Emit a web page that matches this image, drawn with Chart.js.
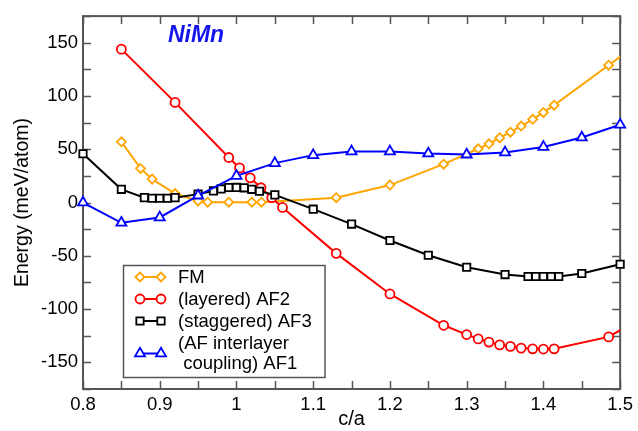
<!DOCTYPE html>
<html>
<head>
<meta charset="utf-8">
<title>NiMn energy vs c/a</title>
<script src="https://cdn.jsdelivr.net/npm/chart.js@4/dist/chart.umd.min.js"></script>
<style>
    html, body { margin: 0; padding: 0; background: #ffffff; }
    #wrap { width: 638px; height: 431px; }
</style>
</head>
<body>
<div id="wrap"><canvas id="chart" width="638" height="431"></canvas></div>
<script>
// Data (c/a vs energy in meV/atom)
const fmX = [0.85, 0.875, 0.89, 0.92, 0.95, 0.9625, 0.99, 1.02, 1.0325, 1.13, 1.2, 1.27, 1.315, 1.329, 1.343, 1.357, 1.371, 1.386, 1.4, 1.414, 1.485, 1.55];
const fmY = [57, 32, 22, 8.5, 1.5, 0.3, 0.3, 0.3, 0.3, 4.6, 16.4, 36, 50.5, 55.1, 60.7, 66, 71.8, 78.1, 84.6, 91.4, 128.9, 163];

const af2X = [0.85, 0.92, 0.99, 1.004, 1.018, 1.032, 1.046, 1.06, 1.13, 1.2, 1.27, 1.3, 1.315, 1.329, 1.343, 1.357, 1.371, 1.386, 1.4, 1.414, 1.485, 1.55];
const af2Y = [144, 94, 42.3, 32.5, 23.2, 13.9, 4.6, -4.6, -47.7, -85.8, -115.2, -123.9, -128, -131, -133.6, -135, -136.6, -137.3, -137.5, -137.3, -126.1, -99];

const af3X = [0.8, 0.85, 0.88, 0.89, 0.9, 0.91, 0.92, 0.95, 0.97, 0.98, 0.99, 1.0, 1.01, 1.02, 1.03, 1.05, 1.1, 1.15, 1.2, 1.25, 1.3, 1.35, 1.38, 1.39, 1.4, 1.41, 1.42, 1.45, 1.5];
const af3Y = [45.8, 12.4, 4.6, 4.0, 4.0, 4.0, 4.6, 7.9, 10.9, 12.8, 14.1, 14.2, 13.8, 12.4, 10.6, 7.2, -6.2, -20.2, -35.6, -49.5, -60.7, -67.6, -69.4, -69.4, -69.4, -69.4, -69.4, -66.6, -57.9];

const af1X = [0.8, 0.85, 0.9, 0.95, 1.0, 1.05, 1.1, 1.15, 1.2, 1.25, 1.3, 1.35, 1.4, 1.45, 1.5];
const af1Y = [0, -19, -14, 6.5, 25, 37, 44.5, 48, 48, 46, 45, 47, 52.2, 61, 73];

const legendLabels = [['FM'], ['(layered) AF2'], ['(staggered) AF3'], ['(AF interlayer', ' coupling) AF1']];

const FONT = "'Liberation Sans', Arial, sans-serif";
const frameColor = '#555555';

function zip(xs, ys) {
    return xs.map((x, i) => ({ x: x, y: ys[i] }));
}

// frame and inward ticks on all four sides
const framePlugin = {
    id: 'frame',
    beforeDatasetsDraw(chart) {
        const { ctx, chartArea: a, scales } = chart;
        const xs = scales.x, ys = scales.y;
        const len = 8;
        ctx.save();
        ctx.strokeStyle = frameColor;
        ctx.lineWidth = 1.5;
        ctx.beginPath();
        for (let i = 0; i <= 14; i++) {
            const px = Math.round(xs.getPixelForValue(0.8 + i * 0.05)) + 0.5;
            ctx.moveTo(px, a.bottom); ctx.lineTo(px, a.bottom - len);
            ctx.moveTo(px, a.top); ctx.lineTo(px, a.top + len);
        }
        for (let v = -175; v <= 175; v += 25) {
            const py = Math.round(ys.getPixelForValue(v)) + 0.5;
            ctx.moveTo(a.left, py); ctx.lineTo(a.left + len, py);
            ctx.moveTo(a.right, py); ctx.lineTo(a.right - len, py);
        }
        ctx.stroke();
        ctx.lineWidth = 2;
        ctx.strokeRect(a.left, a.top, a.right - a.left, a.bottom - a.top);
        ctx.restore();
    }
};

// in-plot label and legend box
const overlayPlugin = {
    id: 'overlay',
    afterDraw(chart) {
        const ctx = chart.ctx;
        ctx.save();
        ctx.font = 'italic bold 23px ' + FONT;
        ctx.fillStyle = '#1515f0';
        ctx.textAlign = 'center';
        ctx.textBaseline = 'middle';
        ctx.fillText('NiMn', 196, 36);

        // legend box
        const bx = 123.5, by = 265.5, bw = 201.5, bh = 112;
        ctx.fillStyle = '#ffffff';
        ctx.fillRect(bx, by, bw, bh);
        ctx.strokeStyle = frameColor;
        ctx.lineWidth = 1.5;
        ctx.strokeRect(bx, by, bw, bh);

        const rows = [277, 299, 321, 353.5];
        ctx.font = '18.5px ' + FONT;
        ctx.textAlign = 'left';
        chart.data.datasets.forEach((ds, i) => {
            const y = rows[i];
            ctx.strokeStyle = ds.borderColor;
            ctx.lineWidth = 2;
            ctx.beginPath();
            ctx.moveTo(140, y); ctx.lineTo(161, y);
            ctx.stroke();
            [140, 161].forEach(px => {
                ctx.fillStyle = '#ffffff';
                ctx.strokeStyle = ds.borderColor;
                ctx.lineWidth = ds.pointBorderWidth;
                Chart.helpers.drawPoint(ctx, { pointStyle: ds.pointStyle, radius: ds.pointRadius, borderWidth: ds.pointBorderWidth, rotation: 0 }, px, y);
            });
            ctx.fillStyle = '#000000';
            const lines = legendLabels[i];
            if (lines.length === 1) {
                ctx.fillText(lines[0], 178, y + 1);
            } else {
                ctx.fillText(lines[0], 178, 344);
                ctx.fillText(lines[1], 178, 364);
            }
        });
        ctx.restore();
    }
};

const sharedPoint = { pointBackgroundColor: '#ffffff', pointBorderWidth: 1.8, borderWidth: 2, tension: 0 };
const edgeClip = { left: 10, top: 10, right: 0, bottom: 10 };

new Chart(document.getElementById('chart'), {
    type: 'line',
    data: {
        datasets: [
            Object.assign({ label: 'FM', data: zip(fmX, fmY), borderColor: '#ffa500', pointBorderColor: '#ffa500', pointStyle: 'rectRot', pointRadius: 4.5, order: 3, clip: edgeClip }, sharedPoint),
            Object.assign({ label: '(layered) AF2', data: zip(af2X, af2Y), borderColor: '#ff0000', pointBorderColor: '#ff0000', pointStyle: 'circle', pointRadius: 4.5, order: 2, clip: edgeClip }, sharedPoint),
            Object.assign({ label: '(staggered) AF3', data: zip(af3X, af3Y), borderColor: '#000000', pointBorderColor: '#000000', pointStyle: 'rect', pointRadius: 5.2, order: 1, clip: false }, sharedPoint),
            Object.assign({ label: '(AF interlayer coupling) AF1', data: zip(af1X, af1Y), borderColor: '#0000ff', pointBorderColor: '#0000ff', pointStyle: 'triangle', pointRadius: 5.8, order: 0, clip: false }, sharedPoint)
        ]
    },
    options: {
        responsive: false,
        animation: false,
        events: [],
        layout: { padding: { top: 13, right: 15, left: 0, bottom: 0 } },
        plugins: {
            legend: { display: false },
            tooltip: { enabled: false }
        },
        scales: {
            x: {
                type: 'linear',
                min: 0.8,
                max: 1.5,
                grid: { display: false, drawTicks: false },
                border: { display: false },
                ticks: {
                    stepSize: 0.1,
                    padding: 5,
                    color: '#000000',
                    font: { family: FONT, size: 18.5 },
                    callback: v => String(Math.round(v * 10) / 10)
                },
                title: {
                    display: true,
                    text: 'c/a',
                    color: '#000000',
                    font: { family: FONT, size: 20 },
                    padding: { top: -2, bottom: 0 }
                },
                afterFit: scale => { scale.height = 42; }
            },
            y: {
                min: -175,
                max: 175,
                grid: { display: false, drawTicks: false },
                border: { display: false },
                ticks: {
                    stepSize: 25,
                    padding: 5,
                    color: '#000000',
                    font: { family: FONT, size: 18.5 },
                    callback: v => (Math.round(v) % 50 === 0 ? String(Math.round(v)) : '')
                },
                title: {
                    display: true,
                    text: 'Energy (meV/atom)',
                    color: '#000000',
                    font: { family: FONT, size: 19.5 },
                    padding: { top: 11, bottom: 0 }
                },
                afterFit: scale => { scale.width = 83; }
            }
        }
    },
    plugins: [framePlugin, overlayPlugin]
});
</script>
</body>
</html>
